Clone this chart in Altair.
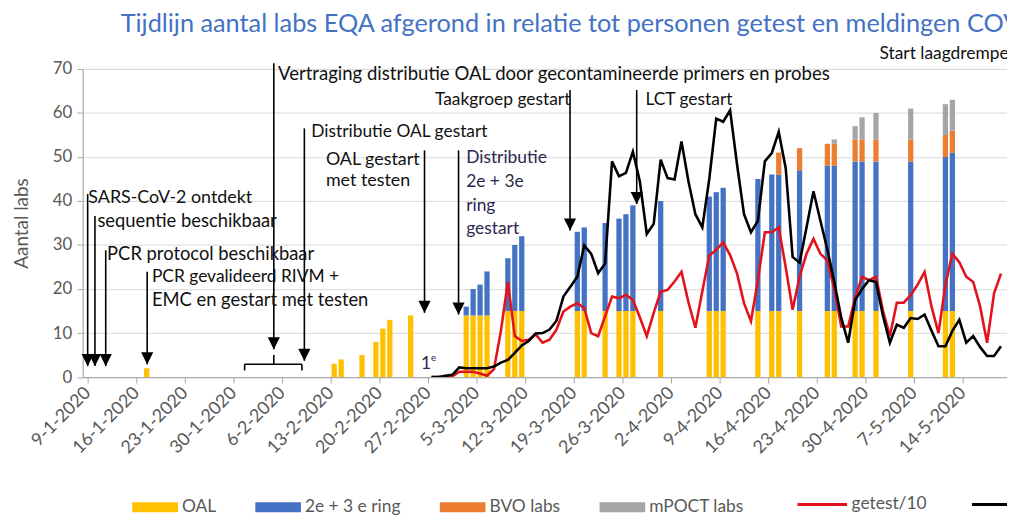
import altair as alt
import pandas as pd

ORIGIN = pd.Timestamp("2020-01-09")

# ---- axis tick labels (one every 7 days, starting 9-1-2020)
tick_labels = ["9-1-2020", "16-1-2020", "23-1-2020", "30-1-2020", "6-2-2020", "13-2-2020",
               "20-2-2020", "27-2-2020", "5-3-2020", "12-3-2020", "19-3-2020", "26-3-2020",
               "2-4-2020", "9-4-2020", "16-4-2020", "23-4-2020", "30-4-2020", "7-5-2020",
               "14-5-2020", "21-5-2020"]

# ---- stacked bars: number of labs per category on each date
bar_dates = ["2020-01-17", "2020-02-13", "2020-02-14", "2020-02-17", "2020-02-19", "2020-02-20",
             "2020-02-21", "2020-02-24",
             "2020-03-03", "2020-03-04", "2020-03-05", "2020-03-06",
             "2020-03-09", "2020-03-10", "2020-03-11",
             "2020-03-19", "2020-03-20", "2020-03-23", "2020-03-25", "2020-03-26", "2020-03-27",
             "2020-03-31",
             "2020-04-07", "2020-04-08", "2020-04-09",
             "2020-04-14", "2020-04-16", "2020-04-17", "2020-04-20",
             "2020-04-24", "2020-04-25", "2020-04-28", "2020-04-29",
             "2020-05-01", "2020-05-06", "2020-05-11", "2020-05-12"]
oal = [2, 3, 4, 5, 8, 11, 13, 14,
       14, 14, 14, 14,
       15, 15, 15,
       15, 15, 15, 15, 15, 15, 15,
       15, 15, 15,
       15, 15, 15, 15,
       15, 15, 15, 15,
       15, 15, 15, 15]
ring = [0, 0, 0, 0, 0, 0, 0, 0,
        2, 6, 7, 10,
        12, 15, 17,
        18, 19, 20, 21, 22, 24, 25,
        26, 27, 28,
        30, 31, 31, 32,
        33, 33, 34, 34,
        34, 34, 35, 36]
bvo = [0, 0, 0, 0, 0, 0, 0, 0,
       0, 0, 0, 0,
       0, 0, 0,
       0, 0, 0, 0, 0, 0, 0,
       0, 0, 0,
       0, 0, 5, 5,
       5, 5, 5, 5,
       5, 5, 5, 5]
mpoct = [0, 0, 0, 0, 0, 0, 0, 0,
         0, 0, 0, 0,
         0, 0, 0,
         0, 0, 0, 0, 0, 0, 0,
         0, 0, 0,
         0, 0, 0, 0,
         0, 1, 3, 5,
         6, 7, 7, 7]
bar_series = ["OAL", "2e + 3 e ring", "BVO labs", "mPOCT labs"]
bar_colors = ["#FFC000", "#4472C4", "#ED7D31", "#A5A5A5"]

# ---- daily lines, from 27-2-2020 to 19-5-2020
line_start = "2020-02-27"
getest_10 = [0, 0, 0, 0.2, 1.2, 1.2, 1.2, 0.8, 0.3, 1.8,
             10.5, 21.6, 9.3, 8.2, 8.5, 9.7, 7.8, 8.5, 10.8, 14.9,
             16, 16.8, 15.7, 10, 9.3, 13.8, 18.3, 17.9, 18.7, 17.5,
             13.6, 9.3, 14.6, 19.4, 19.8, 21.7, 23.9, 17, 11.2, 19.5,
             27.6, 28.9, 30.6, 27.7, 23.5, 16.8, 12.7, 22, 32.9, 32.9,
             34, 25, 15.3, 22.8, 28, 31.4, 28, 26.5, 20, 11.5,
             11.5, 18, 22.8, 22, 22.8, 15.1, 9.3, 16.9, 16.9, 18.6,
             21, 23.9, 16, 10, 21, 28, 26.1, 22.8, 21.6, 16,
             7.8, 19, 23.5]
meldingen = [0, 0, 0.3, 0.5, 2.2, 2, 2, 2, 2, 2.4,
             3.3, 3.9, 5.5, 7.2, 8.2, 9.9, 10, 10.8, 12.8, 18.3,
             20.5, 22.8, 29.9, 28, 23.6, 25.8, 49, 45.6, 46.4, 51.2,
             44.5, 32.5, 34.8, 49.4, 45.2, 44.9, 53.5, 44.5, 37, 34,
             45, 58.7, 58, 60.6, 48.3, 37, 32.9, 35.5, 49, 50.9,
             55.7, 47.5, 27.3, 26, 34, 42.2, 35.5, 29, 21.6, 13.5,
             7.8, 17.5, 20, 22, 21.6, 14, 7.8, 11.9, 11.2, 13.4,
             13.2, 14.2, 10.5, 7, 7, 10.5, 13, 7.8, 9.3, 6.8,
             4.8, 4.8, 7]
line_series = ["getest/10", "meldingen"]
line_colors = ["#E3121B", "#000000"]

# ---- annotation arrows (day since 9-1-2020, value at top, value at arrow tip)
arrow_day = [0.0, 1.05, 2.6, 8.57, 26.8, 31.2, 48.5, 53.4, 69.45, 79.05]
arrow_top = [41.6, 36.6, 28.8, 23.9, 71.3, 56.5, 51.5, 51.5, 65.2, 65.2]
arrow_tip = [2.5, 2.5, 2.5, 2.9, 6.3, 3.7, 14.6, 14.2, 33.3, 39.3]

# bracket under "Vertraging" arrow
bracket_x1 = [22.6, 22.6, 30.85, 26.8]
bracket_x2 = [30.85, 22.6, 30.85, 26.8]
bracket_y1 = [2.9, 2.9, 2.9, 2.9]
bracket_y2 = [2.9, 1.5, 1.5, 5.0]

# ---- annotation texts
note_text = ["SARS-CoV-2 ontdekt", "sequentie beschikbaar", "PCR protocol beschikbaar",
             "PCR gevalideerd RIVM +", "EMC en gestart met testen",
             "Vertraging distributie OAL door gecontamineerde primers en probes",
             "Distributie OAL gestart", "OAL gestart", "met testen",
             "LCT gestart", "Start laagdrempelig testen"]
note_day = [0.1, 1.4, 2.8, 9.25, 9.25, 27.4, 32.2, 34.3, 34.3, 80.3, 114.0]
note_val = [40.7, 35.4, 27.9, 22.8, 17.5, 68.9, 55.7, 49.4, 44.5, 62.9, 73.3]
note_size = [18, 18.5, 18.5, 17.5, 18.5, 18.7, 17.5, 18, 18, 17.5, 17.5]

note_r_text = ["Taakgroep gestart"]
note_r_day = [69.5]
note_r_val = [62.9]

navy_text = ["Distributie", "2e + 3e", "ring", "gestart", "1"]
navy_day = [54.5, 54.5, 54.5, 54.5, 48.0]
navy_val = [49.8, 44.2, 38.9, 33.6, 2.9]
sup_text = ["e"]
sup_day = [49.45]
sup_val = [4.3]

title_text = ["Tijdlijn aantal labs EQA afgerond in relatie tot personen getest en meldingen COVID-19"]
title_day = [4.75]
title_val = [80.2]

# ---------------------------------------------------------------------------
def day_index(s):
    return (pd.Timestamp(s) - ORIGIN).days

rows = []
for i, d in enumerate(bar_dates):
    for k, (name, vals) in enumerate(zip(bar_series, [oal, ring, bvo, mpoct])):
        rows.append({"pos": day_index(d) + 0.5, "series": name, "value": vals[i], "order": k})
bars_df = pd.DataFrame(rows)

start = day_index(line_start)
lrows = []
for name, vals in zip(line_series, [getest_10, meldingen]):
    for i, v in enumerate(vals):
        lrows.append({"pos": start + i + 0.5, "series": name, "value": v})
lines_df = pd.DataFrame(lrows)

arrows_df = pd.DataFrame({"pos": arrow_day, "pos2": arrow_day, "val": arrow_top, "tip": arrow_tip})
bracket_df = pd.DataFrame({"pos": bracket_x1, "pos2": bracket_x2, "val": bracket_y1, "tip": bracket_y2})
rules_df = pd.concat([arrows_df, bracket_df], ignore_index=True)
heads_df = pd.DataFrame({"pos": arrow_day, "val": arrow_tip})
notes_df = pd.DataFrame({"pos": note_day, "val": note_val, "text": note_text, "fs": note_size})
notes_r_df = pd.DataFrame({"pos": note_r_day, "val": note_r_val, "text": note_r_text})
navy_df = pd.DataFrame({"pos": navy_day, "val": navy_val, "text": navy_text})
sup_df = pd.DataFrame({"pos": sup_day, "val": sup_val, "text": sup_text})
title_df = pd.DataFrame({"pos": title_day, "val": title_val, "text": title_text})

PX_PER_DAY = 7.077
PLOT_W = 931.7
PLOT_H = 310.6
x_scale = alt.Scale(domain=[0, PLOT_W / PX_PER_DAY], nice=False, zero=False)
y_scale = alt.Scale(domain=[0, 70], nice=False)

FONT = "Lato"
GREY_TXT = "#595959"
label_expr = "[" + ",".join("'" + t + "'" for t in tick_labels) + "][round(datum.value / 7)]"

x_axis = alt.Axis(values=[7 * i for i in range(len(tick_labels))], labelExpr=label_expr,
                  labelAngle=315, labelAlign="right", labelBaseline="middle",
                  labelFont=FONT, labelFontSize=18, labelColor=GREY_TXT, labelPadding=7,
                  labelOverlap=False, labelFlush=False, labelBound=False,
                  domainColor="#A6A6A6", tickColor="#A6A6A6", tickSize=6, grid=False, title=None)
y_axis = alt.Axis(values=[0, 10, 20, 30, 40, 50, 60, 70], grid=True, gridColor="#D9D9D9",
                  domainColor="#A6A6A6", tickColor="#A6A6A6", tickSize=6,
                  labelFont=FONT, labelFontSize=17, labelColor=GREY_TXT, labelPadding=5,
                  title="Aantal labs", titleFont=FONT, titleFontSize=19, titleColor=GREY_TXT,
                  titleFontWeight="normal", titleAngle=270, titleAlign="center",
                  titleBaseline="middle", titleX=-62, titleY=PLOT_H / 2)


def X(f="pos"):
    return alt.X(f + ":Q", scale=x_scale, axis=x_axis, title=None)


def Y(f="val"):
    return alt.Y(f + ":Q", scale=y_scale, axis=y_axis, title="Aantal labs")


bars = alt.Chart(bars_df).mark_bar(size=5.3).encode(
    x=X(),
    y=alt.Y("value:Q", stack="zero", scale=y_scale, axis=y_axis, title="Aantal labs"),
    color=alt.Color("series:N", sort=bar_series,
                    scale=alt.Scale(domain=bar_series, range=bar_colors),
                    legend=alt.Legend(orient="none", legendX=50, legendY=418.5, direction="horizontal",
                                      title=None, symbolType="M-1,-0.22H1V0.22H-1Z", symbolSize=2116,
                                      symbolStrokeWidth=0, labelFont=FONT, labelFontSize=17.5,
                                      labelColor=GREY_TXT, labelOffset=4, columnPadding=39, padding=0)),
    order=alt.Order("order:Q"),
)

lines = alt.Chart(lines_df).mark_line(strokeWidth=2.6, clip=True).encode(
    x=X(), y=alt.Y("value:Q", scale=y_scale, axis=y_axis, title="Aantal labs"),
    stroke=alt.Stroke("series:N", sort=line_series,
                      scale=alt.Scale(domain=line_series, range=line_colors),
                      legend=alt.Legend(orient="none", legendX=719, legendY=412.5, direction="horizontal",
                                        title=None, symbolType="stroke", symbolSize=2500,
                                        symbolStrokeWidth=3, labelFont=FONT, labelFontSize=17.5,
                                        labelColor=GREY_TXT, labelOffset=3, columnPadding=39, padding=0)),
)

rules = alt.Chart(rules_df).mark_rule(color="#000000", strokeWidth=1.6, clip=False).encode(
    x=X(), x2="pos2:Q", y=Y(), y2="tip:Q"
)

heads = alt.Chart(heads_df).mark_point(shape="M-1,-1L1,-1L0,1Z", size=150, filled=True,
                                       color="#000000", opacity=1, yOffset=-6, clip=False).encode(
    x=X(), y=Y()
)

notes = alt.Chart(notes_df).mark_text(align="left", baseline="middle", font=FONT,
                                      color="#111111", clip=False).encode(
    x=X(), y=Y(), text="text:N", size=alt.Size("fs:Q", scale=None, legend=None))
notes_r = alt.Chart(notes_r_df).mark_text(align="right", baseline="middle", font=FONT, fontSize=17.5,
                                          color="#111111", clip=False).encode(x=X(), y=Y(), text="text:N")
navy = alt.Chart(navy_df).mark_text(align="left", baseline="middle", font=FONT, fontSize=17.5,
                                    color="#2A2850", clip=False).encode(x=X(), y=Y(), text="text:N")
sup = alt.Chart(sup_df).mark_text(align="left", baseline="middle", font=FONT, fontSize=10,
                                  color="#2A2850", clip=False).encode(x=X(), y=Y(), text="text:N")
title = alt.Chart(title_df).mark_text(align="left", baseline="middle", font=FONT, fontSize=25.5,
                                      color="#4472C4", clip=False).encode(x=X(), y=Y(), text="text:N")

chart = alt.layer(bars, lines, rules, heads, notes, notes_r, navy, sup, title).properties(
    width=PLOT_W, height=PLOT_H,
    padding={"left": 75.3, "top": 59.4, "right": 0, "bottom": 138},
    autosize=alt.AutoSizeParams(type="none"),
).configure_view(stroke="transparent").configure(background="#FFFFFF")

chart.save("out.html", embed_options={"renderer": "svg", "actions": False})
